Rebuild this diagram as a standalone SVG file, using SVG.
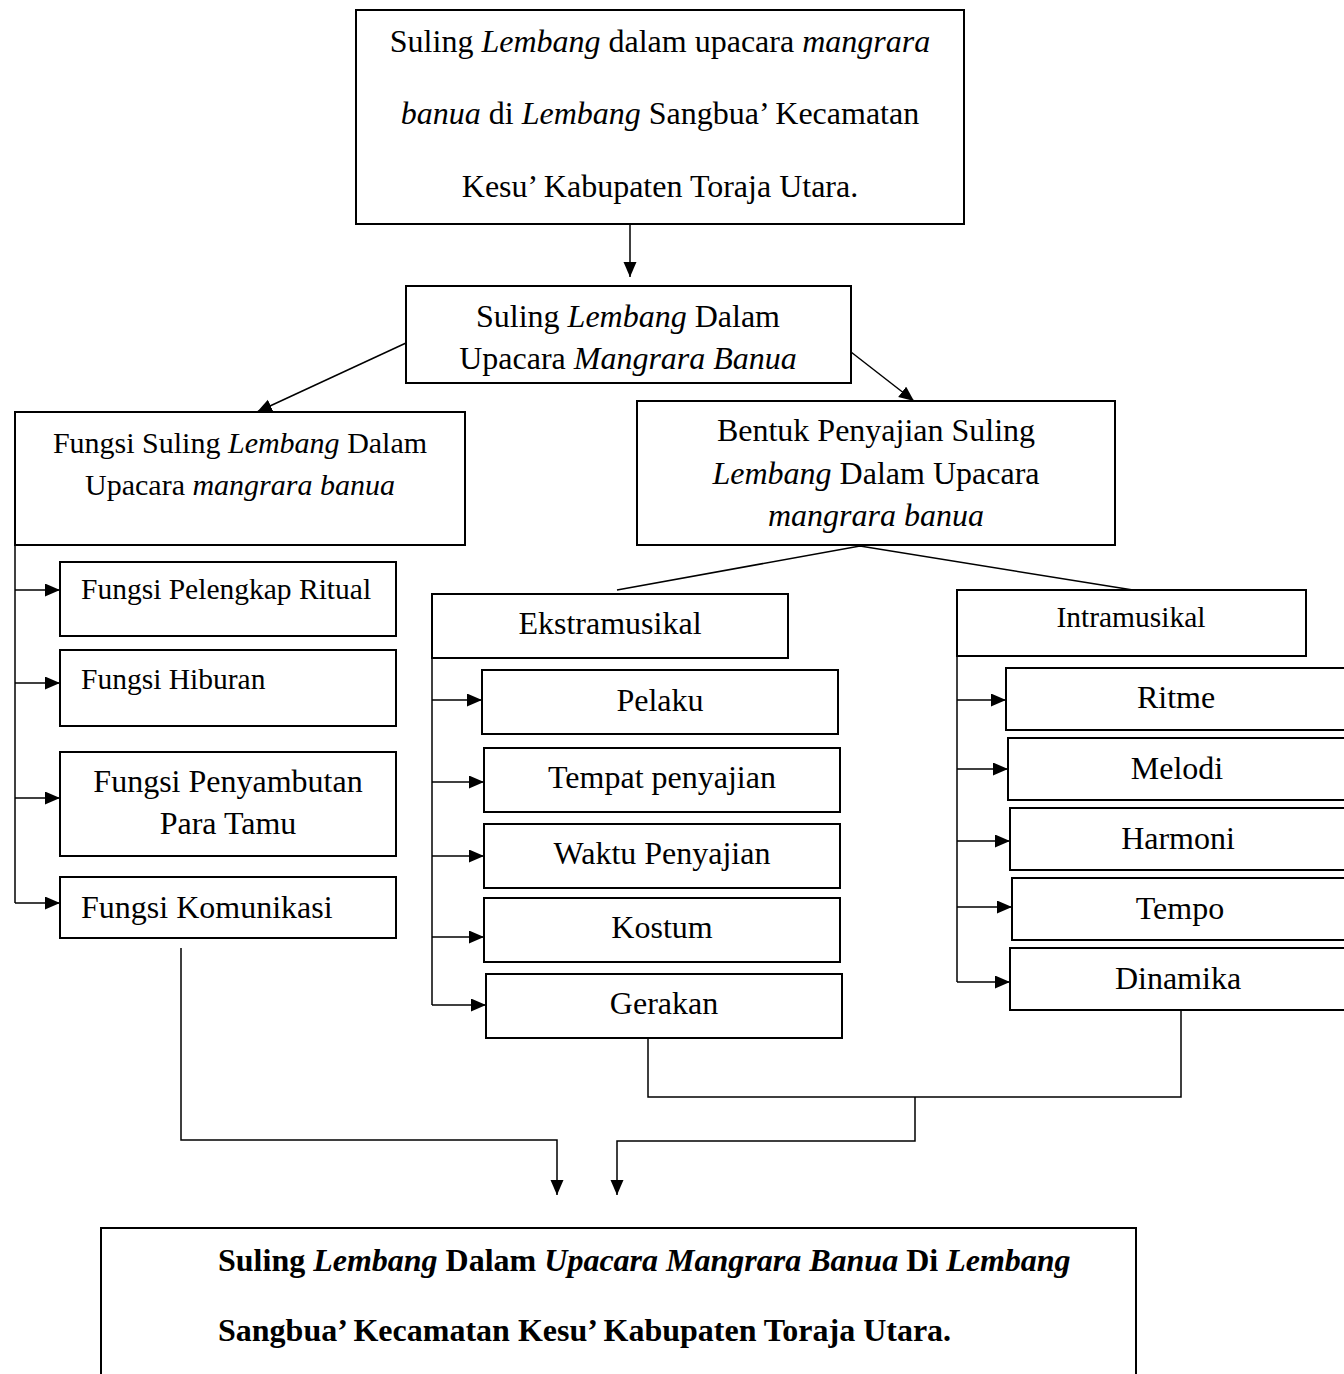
<svg xmlns="http://www.w3.org/2000/svg" width="1344" height="1374" viewBox="0 0 1344 1374">
<style>
.b{fill:#fff;stroke:#000;stroke-width:2}
.t{font-family:"Liberation Serif","Times New Roman",serif;fill:#000;font-size:32px}
.s{font-size:29.5px}
.m{font-size:30px}
.c{text-anchor:middle}
.i{font-style:italic}
.bold{font-weight:bold}
.ln{fill:none;stroke:#000;stroke-width:1.5}
</style>
<defs>
<marker id="ah" markerUnits="userSpaceOnUse" markerWidth="16" markerHeight="14" refX="15" refY="6.5" orient="auto">
<path d="M0,0 L15,6.5 L0,13 z" fill="#000"/>
</marker>
</defs>
<g id="connectors">
<line class="ln" x1="630" y1="224" x2="630" y2="277" marker-end="url(#ah)"/>
<line class="ln" x1="406" y1="343" x2="257" y2="412" marker-end="url(#ah)"/>
<line class="ln" x1="851" y1="352" x2="914" y2="401" marker-end="url(#ah)"/>
<polyline class="ln" points="617,590 860,546 1133,590"/>
<polyline class="ln" points="15,545 15,903"/>
<line class="ln" x1="15" y1="590" x2="60" y2="590" marker-end="url(#ah)"/>
<line class="ln" x1="15" y1="683" x2="60" y2="683" marker-end="url(#ah)"/>
<line class="ln" x1="15" y1="798" x2="60" y2="798" marker-end="url(#ah)"/>
<line class="ln" x1="15" y1="903" x2="60" y2="903" marker-end="url(#ah)"/>
<polyline class="ln" points="432,658 432,1005"/>
<line class="ln" x1="432" y1="700" x2="482" y2="700" marker-end="url(#ah)"/>
<line class="ln" x1="432" y1="782" x2="484" y2="782" marker-end="url(#ah)"/>
<line class="ln" x1="432" y1="856" x2="484" y2="856" marker-end="url(#ah)"/>
<line class="ln" x1="432" y1="937" x2="484" y2="937" marker-end="url(#ah)"/>
<line class="ln" x1="432" y1="1005" x2="486" y2="1005" marker-end="url(#ah)"/>
<polyline class="ln" points="957,656 957,982"/>
<line class="ln" x1="957" y1="700" x2="1006" y2="700" marker-end="url(#ah)"/>
<line class="ln" x1="957" y1="769" x2="1008" y2="769" marker-end="url(#ah)"/>
<line class="ln" x1="957" y1="841" x2="1010" y2="841" marker-end="url(#ah)"/>
<line class="ln" x1="957" y1="907" x2="1012" y2="907" marker-end="url(#ah)"/>
<line class="ln" x1="957" y1="982" x2="1010" y2="982" marker-end="url(#ah)"/>
<polyline class="ln" points="648,1038 648,1097 1181,1097 1181,1010"/>
<polyline class="ln" points="915,1097 915,1141 617,1141 617,1195" marker-end="url(#ah)"/>
<polyline class="ln" points="181,948 181,1140 557,1140 557,1195" marker-end="url(#ah)"/>
</g>
<g id="n-top">
<rect class="b" x="356" y="10" width="608" height="214"/>
<text class="t c" x="660" y="52">Suling <tspan class="i">Lembang</tspan> dalam upacara <tspan class="i">mangrara</tspan></text>
<text class="t c" x="660" y="124"><tspan class="i">banua</tspan> di <tspan class="i">Lembang</tspan> Sangbua’ Kecamatan</text>
<text class="t c" x="660" y="197">Kesu’ Kabupaten Toraja Utara.</text>
</g>
<g id="n-main">
<rect class="b" x="406" y="286" width="445" height="97"/>
<text class="t c" x="628" y="327">Suling <tspan class="i">Lembang</tspan> Dalam</text>
<text class="t c" x="628" y="369">Upacara <tspan class="i">Mangrara Banua</tspan></text>
</g>
<g id="n-fungsi">
<rect class="b" x="15" y="412" width="450" height="133"/>
<text class="t c m" x="240" y="453">Fungsi Suling <tspan class="i">Lembang</tspan> Dalam</text>
<text class="t c m" x="240" y="495">Upacara <tspan class="i">mangrara banua</tspan></text>
</g>
<g id="n-bentuk">
<rect class="b" x="637" y="401" width="478" height="144"/>
<text class="t c" x="876" y="441">Bentuk Penyajian Suling</text>
<text class="t c" x="876" y="484"><tspan class="i">Lembang</tspan> Dalam Upacara</text>
<text class="t c" x="876" y="526"><tspan class="i">mangrara banua</tspan></text>
</g>
<g id="n-ekstra">
<rect class="b" x="432" y="594" width="356" height="64"/>
<text class="t c" x="610" y="634">Ekstramusikal</text>
</g>
<g id="n-intra">
<rect class="b" x="957" y="590" width="349" height="66"/>
<text class="t c s" x="1131" y="627">Intramusikal</text>
</g>
<g id="n-f1">
<rect class="b" x="60" y="562" width="336" height="74"/>
<text class="t s" x="81" y="599">Fungsi Pelengkap Ritual</text>
</g>
<g id="n-f2">
<rect class="b" x="60" y="650" width="336" height="76"/>
<text class="t s" x="81" y="689">Fungsi Hiburan</text>
</g>
<g id="n-f3">
<rect class="b" x="60" y="752" width="336" height="104"/>
<text class="t c" x="228" y="792">Fungsi Penyambutan</text>
<text class="t c" x="228" y="834">Para Tamu</text>
</g>
<g id="n-f4">
<rect class="b" x="60" y="877" width="336" height="61"/>
<text class="t" x="81" y="918">Fungsi Komunikasi</text>
</g>
<g id="n-e1">
<rect class="b" x="482" y="670" width="356" height="64"/>
<text class="t c" x="660" y="711">Pelaku</text>
</g>
<g id="n-e2">
<rect class="b" x="484" y="748" width="356" height="64"/>
<text class="t c" x="662" y="788">Tempat penyajian</text>
</g>
<g id="n-e3">
<rect class="b" x="484" y="824" width="356" height="64"/>
<text class="t c" x="662" y="864">Waktu Penyajian</text>
</g>
<g id="n-e4">
<rect class="b" x="484" y="898" width="356" height="64"/>
<text class="t c" x="662" y="938">Kostum</text>
</g>
<g id="n-e5">
<rect class="b" x="486" y="974" width="356" height="64"/>
<text class="t c" x="664" y="1014">Gerakan</text>
</g>
<g id="n-i1">
<rect class="b" x="1006" y="668" width="340" height="62"/>
<text class="t c" x="1176" y="708">Ritme</text>
</g>
<g id="n-i2">
<rect class="b" x="1008" y="738" width="340" height="62"/>
<text class="t c" x="1177" y="779">Melodi</text>
</g>
<g id="n-i3">
<rect class="b" x="1010" y="808" width="340" height="62"/>
<text class="t c" x="1178" y="849">Harmoni</text>
</g>
<g id="n-i4">
<rect class="b" x="1012" y="878" width="340" height="62"/>
<text class="t c" x="1180" y="919">Tempo</text>
</g>
<g id="n-i5">
<rect class="b" x="1010" y="948" width="340" height="62"/>
<text class="t c" x="1178" y="989">Dinamika</text>
</g>
<g id="n-bottom">
<rect class="b" x="101" y="1228" width="1035" height="160"/>
<text class="t bold" x="218" y="1271">Suling <tspan class="i">Lembang</tspan> Dalam <tspan class="i">Upacara Mangrara Banua</tspan> Di <tspan class="i">Lembang</tspan></text>
<text class="t bold" x="218" y="1341">Sangbua’ Kecamatan Kesu’ Kabupaten Toraja Utara.</text>
</g>
</svg>
